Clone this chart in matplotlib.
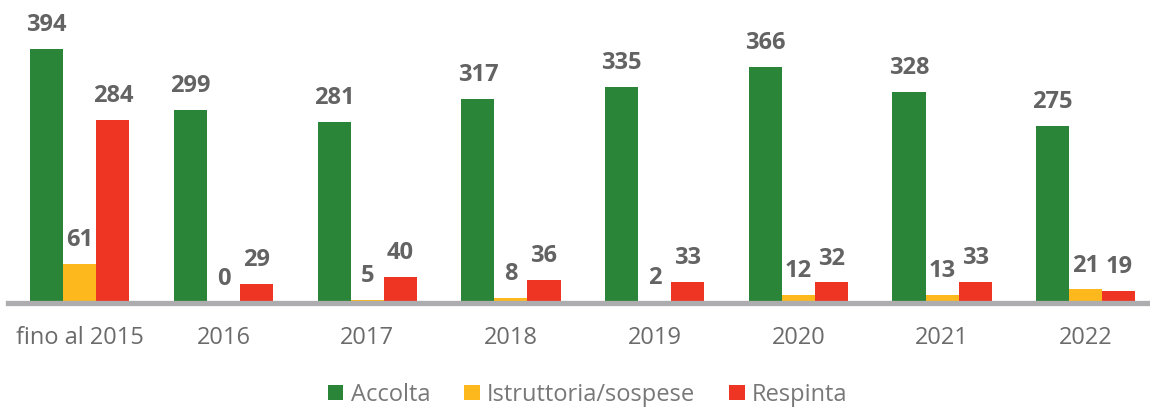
import matplotlib.pyplot as plt
from matplotlib.patches import Patch
import numpy as np

plt.rcParams['font.family'] = ['Open Sans', 'DejaVu Sans']

categories = ['fino al 2015', '2016', '2017', '2018', '2019', '2020', '2021', '2022']
accolta = [394, 299, 281, 317, 335, 366, 328, 275]
istruttoria = [61, 0, 5, 8, 2, 12, 13, 21]
respinta = [284, 29, 40, 36, 33, 32, 33, 19]

series = [('Accolta', accolta, '#2b8538'),
          ('Istruttoria/sospese', istruttoria, '#fdb81e'),
          ('Respinta', respinta, '#ee3524')]

fig = plt.figure(figsize=(11.5, 4.07), dpi=100)
ax = fig.add_axes([8 / 1150, 104 / 407, 1 - 8 / 1150, 303 / 407])

x = np.arange(len(categories))
w = 0.23
for i, (name, vals, col) in enumerate(series):
    pos = x + (i - 1) * w
    ax.bar(pos, vals, width=w, color=col, zorder=1)
    for px, v in zip(pos, vals):
        ax.annotate(str(v), (px, v), xytext=(0, 8.5), textcoords='offset points',
                    ha='center', va='bottom', fontsize=17, fontweight='bold',
                    color='#636363')

ax.set_xlim(-0.5, 7.447)
ax.set_ylim(0, 470)
ax.set_xticks(x)
ax.set_xticklabels(categories)
ax.tick_params(axis='x', length=0, pad=16.5, labelsize=17, labelcolor='#6b6b6b')
ax.set_yticks([])
for s in ['top', 'right', 'left']:
    ax.spines[s].set_visible(False)
ax.spines['bottom'].set_color('#adadb0')
ax.spines['bottom'].set_linewidth(3.8)
ax.spines['bottom'].set_zorder(3)

handles = [Patch(facecolor=c, label=n) for n, _, c in series]
leg = fig.legend(handles=handles, loc='center', bbox_to_anchor=(0.511, 0.03),
                 ncol=3, frameon=False, fontsize=17, handlelength=0.65,
                 handleheight=0.65, handletextpad=0.3, columnspacing=1.45)
for t in leg.get_texts():
    t.set_color('#787878')

fig.savefig('out.png', dpi=100)
